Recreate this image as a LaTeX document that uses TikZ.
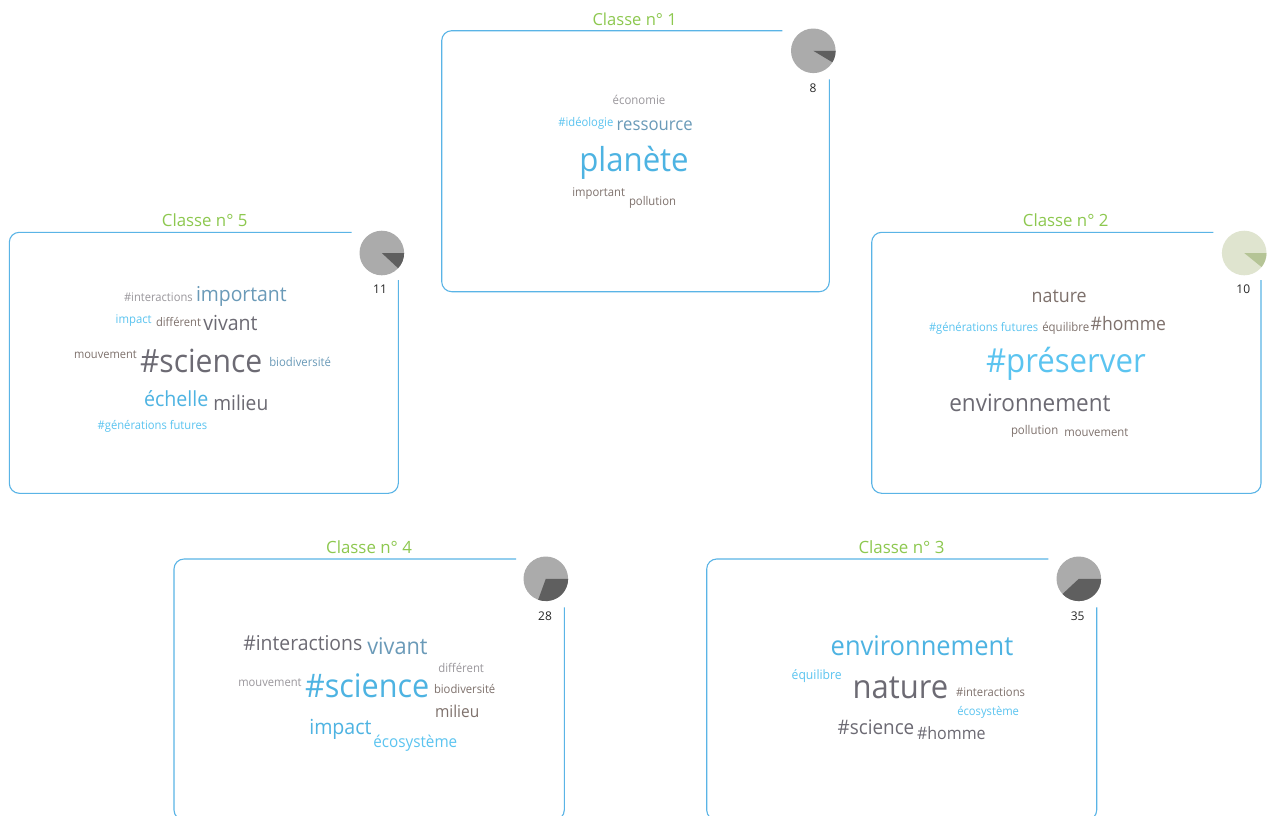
\documentclass[tikz,border=0pt]{standalone}
\usepackage{fontspec}
\setmainfont{Open Sans}
\usepackage{graphicx}
\definecolor{boxblue}{HTML}{5AB4E6}
\definecolor{titlegreen}{HTML}{8DC84F}
\definecolor{wblue}{HTML}{4DB3E2}
\definecolor{wlight}{HTML}{5BC4F0}
\definecolor{wsteel}{HTML}{6A9AB8}
\definecolor{wgrey}{HTML}{9A979C}
\definecolor{wdark}{HTML}{6C6A73}
\definecolor{wbrown}{HTML}{7E716C}
\definecolor{piegrey}{HTML}{ABABAB}
\definecolor{piedark}{HTML}{5F5F5F}
\definecolor{piegreen}{HTML}{DFE4CF}
\definecolor{piegreendark}{HTML}{B5C496}
\newcommand\cloudw[6]{\node[cloudword,text=#5] (#1) at (#2,#3) {\scalebox{1}[1.06]{\resizebox{#4pt}{!}{#6}}};}
\begin{document}
\begin{tikzpicture}[x=1pt,y=-1pt,
  cloudword/.style={anchor=base west,inner sep=0pt,outer sep=0pt},
  titlenode/.style={anchor=base west,inner sep=0pt,text=titlegreen},
  numnode/.style={anchor=center,inner sep=0pt,text=black!85,font=\fontsize{12}{14}\selectfont},
  frame/.style={draw=boxblue,line width=1.1pt,rounded corners=10pt}]
\useasboundingbox (0,0) rectangle (1269,815);
\fill[white] (0,0) rectangle (1269,815);

% ---------- Box 1 ----------
\draw[frame] (782.3,30.7) -- (441.7,30.7) -- (441.7,291.7) -- (829.3,291.7) -- (829.3,79.3);
\node[titlenode] (t1) at (592.3,25) {\resizebox{84.3pt}{!}{Classe n° 1}};
\coordinate (p1) at (813.3,50.8);
\fill[piegrey] (p1) circle (22.3pt);
\fill[piedark] (p1) -- ++(0:22.3pt) arc (0:-31:22.3pt) -- cycle;
\node[numnode] (n1) at (813,88) {8};
\cloudw{b1a}{612.7}{104}{52.6}{wgrey}{économie}
\cloudw{b1b}{558.3}{126}{55}{wlight}{\#idéologie}
\cloudw{b1c}{616.7}{130}{76}{wsteel}{ressource}
\cloudw{b1d}{579.3}{171.7}{109.4}{wblue}{planète}
\cloudw{b1e}{572.3}{196.7}{52.7}{wbrown}{important}
\cloudw{b1f}{629}{205.7}{47}{wbrown}{pollution}

% ---------- Box 5 ----------
\draw[frame] (351.7,232.3) -- (9.3,232.3) -- (9.3,493.3) -- (398.3,493.3) -- (398.3,280);
\node[titlenode] (t5) at (161.7,226.7) {\resizebox{85.6pt}{!}{Classe n° 5}};
\coordinate (p5) at (381.8,253);
\fill[piegrey] (p5) circle (22.3pt);
\fill[piedark] (p5) -- ++(0:22.3pt) arc (0:-43:22.3pt) -- cycle;
\node[numnode] (n5) at (380,289.3) {11};
\cloudw{b5a}{124}{301.7}{68.7}{wgrey}{\#interactions}
\cloudw{b5b}{196}{301}{90.7}{wsteel}{important}
\cloudw{b5c}{115.7}{323.3}{36}{wlight}{impact}
\cloudw{b5d}{156}{326}{45}{wbrown}{différent}
\cloudw{b5e}{203.3}{330.7}{54.3}{wdark}{vivant}
\cloudw{b5f}{74}{358.3}{62.7}{wbrown}{mouvement}
\cloudw{b5g}{140}{372.3}{122.3}{wdark}{\#science}
\cloudw{b5h}{269.3}{366}{61.7}{wsteel}{biodiversité}
\cloudw{b5i}{144}{406.7}{64.3}{wblue}{échelle}
\cloudw{b5j}{213.3}{410}{55}{wdark}{milieu}
\cloudw{b5k}{97.7}{429}{109.6}{wlight}{\#générations futures}

% ---------- Box 2 ----------
\draw[frame] (1213.3,232.3) -- (871.7,232.3) -- (871.7,493.3) -- (1261,493.3) -- (1261,280);
\node[titlenode] (t2) at (1022.7,226.7) {\resizebox{85.6pt}{!}{Classe n° 2}};
\coordinate (p2) at (1244.2,253);
\fill[piegreen] (p2) circle (22.3pt);
\fill[piegreendark] (p2) -- ++(0:22.3pt) arc (0:-39:22.3pt) -- cycle;
\node[numnode] (n2) at (1243.3,289.3) {10};
\cloudw{b2a}{1031.7}{302.3}{55}{wbrown}{nature}
\cloudw{b2b}{929}{331.7}{109.3}{wlight}{\#générations futures}
\cloudw{b2c}{1042.3}{331.7}{47}{wbrown}{équilibre}
\cloudw{b2d}{1090.7}{330}{75.3}{wbrown}{\#homme}
\cloudw{b2e}{986}{372.7}{159.7}{wlight}{\#préserver}
\cloudw{b2f}{949.3}{411}{161.3}{wdark}{environnement}
\cloudw{b2g}{1011}{434}{47.3}{wbrown}{pollution}
\cloudw{b2h}{1064.3}{436.7}{64}{wbrown}{mouvement}

% ---------- Box 4 ----------
\draw[frame] (516,559) -- (174,559) -- (174,820) -- (564.3,820) -- (564.3,607.3);
\node[titlenode] (t4) at (326,553.3) {\resizebox{85.7pt}{!}{Classe n° 4}};
\coordinate (p4) at (545.8,578.8);
\fill[piegrey] (p4) circle (22.3pt);
\fill[piedark] (p4) -- ++(0:22.3pt) arc (0:-110:22.3pt) -- cycle;
\node[numnode] (n4) at (545,616) {28};
\cloudw{b4a}{243.3}{650}{119}{wdark}{\#interactions}
\cloudw{b4b}{367.3}{654}{60.3}{wsteel}{vivant}
\cloudw{b4c}{438.3}{672.7}{45.7}{wgrey}{différent}
\cloudw{b4d}{238.3}{686}{63.3}{wgrey}{mouvement}
\cloudw{b4e}{305}{697.7}{124.3}{wblue}{\#science}
\cloudw{b4f}{434}{693.3}{61.3}{wbrown}{biodiversité}
\cloudw{b4g}{435}{717.7}{44.3}{wbrown}{milieu}
\cloudw{b4h}{309.3}{734}{62.3}{wblue}{impact}
\cloudw{b4i}{373.3}{747.3}{84}{wlight}{écosystème}

% ---------- Box 3 ----------
\draw[frame] (1048.3,559) -- (706.7,559) -- (706.7,820) -- (1096.7,820) -- (1096.7,607.3);
\node[titlenode] (t3) at (858.3,553.3) {\resizebox{86pt}{!}{Classe n° 3}};
\coordinate (p3) at (1078.8,578.8);
\fill[piegrey] (p3) circle (22.3pt);
\fill[piedark] (p3) -- ++(0:22.3pt) arc (0:-137:22.3pt) -- cycle;
\node[numnode] (n3) at (1077.7,616) {35};
\cloudw{b3a}{830.7}{655}{182.6}{wblue}{environnement}
\cloudw{b3b}{791.7}{679}{50}{wlight}{équilibre}
\cloudw{b3c}{852.7}{698.3}{95.6}{wdark}{nature}
\cloudw{b3d}{956}{696.7}{69}{wbrown}{\#interactions}
\cloudw{b3e}{957.3}{715}{61.7}{wlight}{écosystème}
\cloudw{b3f}{837.7}{734}{76.6}{wdark}{\#science}
\cloudw{b3g}{917}{739.3}{68.7}{wdark}{\#homme}
\end{tikzpicture}
\end{document}
